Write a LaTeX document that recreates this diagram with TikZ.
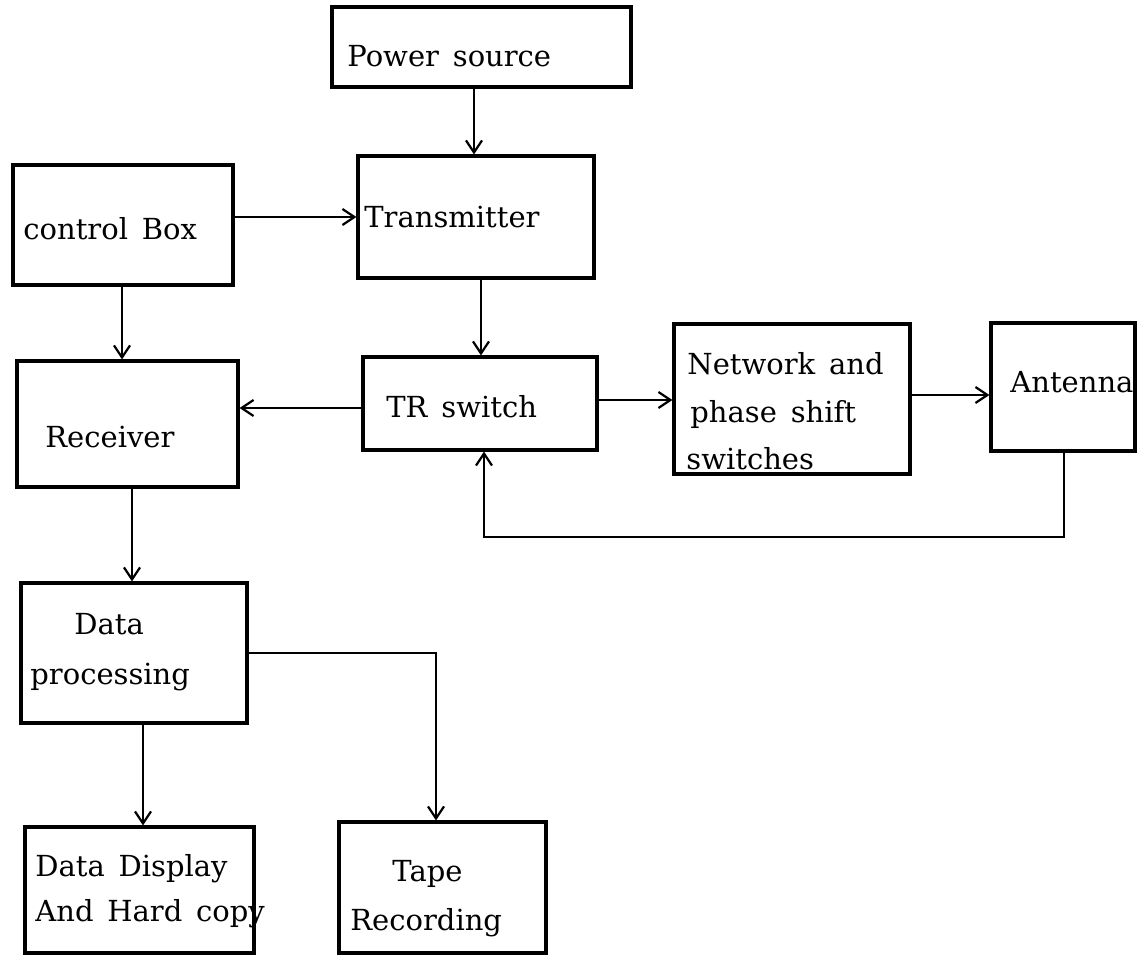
\documentclass[tikz,border=0pt]{standalone}
\usepackage{fontspec}
\setmainfont[WordSpace=1.5]{DejaVu Serif}
\usetikzlibrary{arrows.meta}
\begin{document}
\begin{tikzpicture}[x=0.5pt,y=-0.5pt,
  blk/.style={draw, line width=1.6pt, rectangle, inner sep=0pt},
  lbl/.style={anchor=mid west, inner sep=0pt, yshift=-2pt, font=\fontsize{14.5}{17}\selectfont},
  arr/.style={line width=1.1pt, -{Straight Barb[length=6pt,width=8pt,line width=1.1pt]}},
  lin/.style={line width=1.1pt}]
\useasboundingbox (0,0) rectangle (1148,957);
% boxes
\node[blk, minimum width=149.5pt, minimum height=40pt] (power) at (481.5,47) {};
\node[blk, minimum width=118pt, minimum height=61pt] (trans) at (476,217) {};
\node[blk, minimum width=110pt, minimum height=60pt] (ctrl) at (123,225) {};
\node[blk, minimum width=110.5pt, minimum height=63pt] (recv) at (127.5,424) {};
\node[blk, minimum width=117pt, minimum height=46.5pt] (tr) at (480,403.5) {};
\node[blk, minimum width=118pt, minimum height=75pt] (net) at (792,399) {};
\node[blk, minimum width=72pt, minimum height=64pt] (ant) at (1063,387) {};
\node[blk, minimum width=113pt, minimum height=70pt] (dproc) at (134,653) {};
\node[blk, minimum width=114.5pt, minimum height=63pt] (ddisp) at (139.5,890) {};
\node[blk, minimum width=103.5pt, minimum height=65.5pt] (tape) at (442.5,887.5) {};
% labels
\node[lbl] (tpower) at (347,57) {Power source};
\node[lbl] (ttrans) at (364,218) {Transmitter};
\node[lbl] (tctrl) at (23,230) {control Box};
\node[lbl] (trecv) at (45,438) {Receiver};
\node[lbl] (ttr) at (386,408) {TR switch};
\node[lbl] (tnet1) at (687,365) {Network and};
\node[lbl] (tnet2) at (690,413) {phase shift};
\node[lbl] (tnet3) at (686,460) {switches};
\node[lbl] (tant) at (1010,383) {Antenna};
\node[lbl] (tdp1) at (74,625) {Data};
\node[lbl] (tdp2) at (30,675) {processing};
\node[lbl] (tdd1) at (35,867) {Data Display};
\node[lbl] (tdd2) at (35,912) {And Hard copy};
\node[lbl] (ttape1) at (392,872) {Tape};
\node[lbl] (ttape2) at (350,921) {Recording};
% connectors
\draw[arr] (474,0 |- power.south) -- (474,0 |- trans.north);
\draw[arr] (ctrl.east |- trans.west) -- (trans.west);
\draw[arr] (122,0 |- ctrl.south) -- (122,0 |- recv.north);
\draw[arr] (481,0 |- trans.south) -- (481,0 |- tr.north);
\draw[arr] (tr.west |- 0,408) -- (recv.east |- 0,408);
\draw[arr] (tr.east |- 0,400) -- (net.west |- 0,400);
\draw[arr] (net.east |- 0,395) -- (ant.west |- 0,395);
\coordinate (fb1) at (1064,537);
\coordinate (fb2) at (484,537);
\draw[arr] (ant.south -| fb1) -- (fb1) -- (fb2) -- (tr.south -| fb2);
\draw[arr] (132,0 |- recv.south) -- (132,0 |- dproc.north);
\draw[arr] (143,0 |- dproc.south) -- (143,0 |- ddisp.north);
\coordinate (tp1) at (436,653);
\draw[arr] (dproc.east |- tp1) -- (tp1) -- (tape.north -| tp1);
\end{tikzpicture}
\end{document}
